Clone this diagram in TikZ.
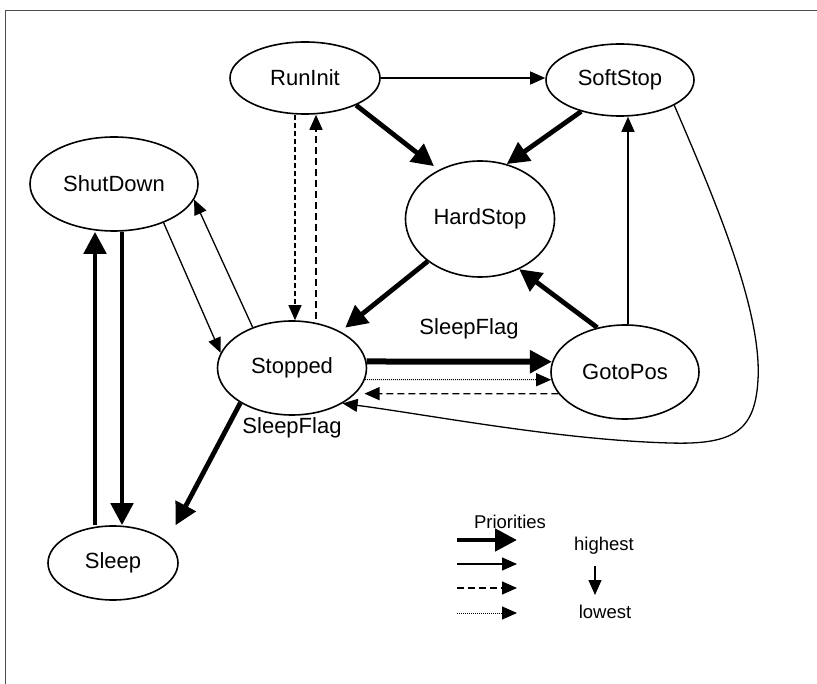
\documentclass[tikz,border=0pt]{standalone}
\usepackage{fontspec}
\setmainfont{Liberation Sans}
\usetikzlibrary{shapes.geometric,arrows.meta}
\begin{document}
\begin{tikzpicture}[x=1pt,y=-1pt,
  state/.style={ellipse,draw,line width=1.6pt,inner sep=0pt,font=\fontsize{22}{26}\selectfont},
  thinarr/.style={line width=1.3pt,-{Triangle[length=15pt,width=13pt]}},
  thickarr/.style={line width=4.8pt,-{Triangle[length=22pt,width=22pt]}},
  thickerarr/.style={line width=6pt,-{Triangle[length=22pt,width=22pt]}},
  dasharr/.style={line width=1.3pt,dash pattern=on 7pt off 4pt,-{Triangle[length=15pt,width=13pt]}},
  shortdasharr/.style={line width=1.1pt,dash pattern=on 5pt off 3pt,-{Triangle[length=15pt,width=13pt]}},
  dotarr/.style={line width=1pt,dash pattern=on 1pt off 1pt,-{Triangle[length=15pt,width=13pt]}},
  lbl/.style={font=\fontsize{22}{26}\selectfont,inner sep=0pt},
  leg/.style={font=\fontsize{18.5}{22}\selectfont,inner sep=0pt}
]
\useasboundingbox (0,0) rectangle (817,684);
\draw[line width=1pt,black!70] (5,684) -- (5,11) -- (817,11);

% states
\node[state,minimum width=150pt,minimum height=72pt] (RunInit) at (305,78) {RunInit};
\node[state,minimum width=148pt,minimum height=72pt] (SoftStop) at (620,80) {SoftStop};
\node[state,minimum width=149pt,minimum height=116pt] (HardStop) at (480,219) {HardStop};
\node[state,minimum width=168pt,minimum height=94pt] (ShutDown) at (114,184) {ShutDown};
\node[state,minimum width=149pt,minimum height=94pt] (Stopped) at (292,368) {Stopped};
\node[state,minimum width=148pt,minimum height=94pt] (GotoPos) at (625,372) {GotoPos};
\node[state,minimum width=130pt,minimum height=74pt] (Sleep) at (113,563) {Sleep};

% connectors
\draw[thinarr] (RunInit.east) -- (RunInit.east -| SoftStop.west);
\draw[thickarr,shorten >=6pt] (RunInit.-28) -- (HardStop.130);
\draw[thickarr] (SoftStop.-141) -- (HardStop.64);
\draw[thickarr,shorten >=6pt] (HardStop.-141) -- (Stopped.37);
\draw[thickarr] (GotoPos.122) -- (HardStop.-52);
\draw[thinarr] ([xshift=3pt]GotoPos.north) -- ([xshift=3pt]GotoPos.north |- SoftStop.south);
\draw[thinarr] (SoftStop.-25) .. controls (715,200) and (762,310) .. (758,380)
   .. controls (755,430) and (735,445) .. (670,443)
   .. controls (560,440) and (430,415) .. (Stopped.-35);
\draw[thinarr] (ShutDown.-38) -- (Stopped.168);
\draw[thinarr] (Stopped.134) -- (ShutDown.-11);
\draw[shortdasharr] ([xshift=-10pt]RunInit.south) -- ([xshift=-10pt]RunInit.south |- Stopped.north);
\draw[dasharr] ([xshift=24pt,yshift=1pt]Stopped.north) -- ([xshift=11pt]RunInit.south);
\draw[thickerarr] (Stopped.5) -- (GotoPos.172);
\draw[dotarr] (Stopped.-9) -- (GotoPos.186);
\draw[dasharr,shorten >=9pt] (GotoPos.198) -- (Stopped.-22);
\draw[thickarr] (Stopped.-146) -- ([xshift=16pt,yshift=11pt]Sleep.north east);
\draw[thickarr] ([xshift=8pt]ShutDown.south) -- ([xshift=8pt]ShutDown.south |- Sleep.north);
\draw[thickarr] ([xshift=-18pt]Sleep.north) -- ([xshift=-18pt]Sleep.north |- ShutDown.south);

% labels
\node[lbl] (sf1) at (469,329) {SleepFlag};
\node[lbl] (sf2) at (292,428) {SleepFlag};

% legend
\node[leg] (prio) at (510,522) {Priorities};
\coordinate (l1a) at (457,540); \coordinate (l1b) at (517,540);
\coordinate (l2a) at (457,564); \coordinate (l2b) at (517,564);
\coordinate (l3a) at (457,588); \coordinate (l3b) at (517,588);
\coordinate (l4a) at (457,613); \coordinate (l4b) at (517,613);
\draw[thickarr] (l1a) -- (l1b);
\draw[thinarr] (l2a) -- (l2b);
\draw[line width=1.5pt,dash pattern=on 7pt off 4pt,-{Triangle[length=15pt,width=13pt]}] (l3a) -- (l3b);
\draw[dotarr] (l4a) -- (l4b);
\node[leg] (hi) at (604,546) {highest};
\node[leg] (lo) at (605,612) {lowest};
\coordinate (da) at (595,566); \coordinate (db) at (595,595);
\draw[thinarr] (da) -- (db);
\end{tikzpicture}
\end{document}
